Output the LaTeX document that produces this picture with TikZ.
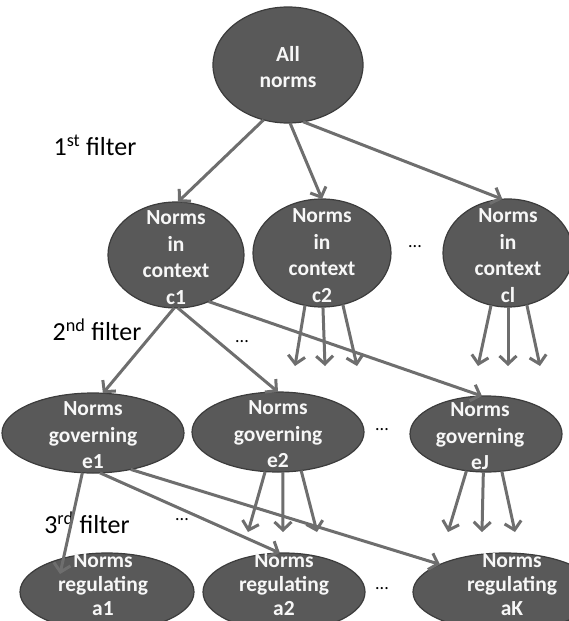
\documentclass[tikz,border=0pt]{standalone}
\usepackage{fontspec}
\setmainfont{Carlito}
\usetikzlibrary{shapes.geometric,arrows.meta}
\definecolor{nodefill}{HTML}{595959}
\definecolor{nodeedge}{HTML}{3C3C3C}
\definecolor{arrowgray}{HTML}{6E6E6E}
\newcommand{\nodetext}[2][0pt]{\makebox[0pt]{\hspace*{#1}\hspace*{#1}\smash{\raisebox{\dimexpr-0.25em-4pt\relax}{\begin{tabular}{@{}c@{}}#2\end{tabular}}}}}
\newcommand{\nodetextlow}[2][0pt]{\makebox[0pt]{\hspace*{#1}\hspace*{#1}\smash{\raisebox{\dimexpr-0.25em+5pt\relax}{\begin{tabular}{@{}c@{}}#2\end{tabular}}}}}
\tikzset{
  blob/.style={ellipse, draw=nodeedge, line width=1.2pt, fill=nodefill, text=white!94!gray,
    inner sep=0pt, outer sep=0pt, font=\fontsize{21.5}{26.5}\selectfont\bfseries},
  lowblob/.style={blob, font=\fontsize{21.5}{24}\selectfont\bfseries},
  fltlabel/.style={font=\fontsize{26}{30}\selectfont, text=black, inner sep=0pt},
  dotlabel/.style={font=\fontsize{18}{20}\selectfont, text=black, inner sep=0pt},
  conn/.style={draw=arrowgray, line width=3pt, -{Straight Barb[length=8pt,width=17pt]}},
}
\begin{document}
\begin{tikzpicture}[x=1pt,y=-1pt]
\useasboundingbox (0,0) rectangle (569,621);
% nodes
\node[blob, minimum width=150pt, minimum height=116pt] (A) at (288,65) {\nodetext{All\\norms}};
\node[blob, minimum width=136pt, minimum height=106pt] (c1) at (176,255) {\nodetext{Norms\\in\\context\\c1}};
\node[blob, minimum width=138pt, minimum height=108pt] (c2) at (322,253) {\nodetext{Norms\\in\\context\\c2}};
\node[blob, minimum width=130pt, minimum height=108pt] (cl) at (508,253) {\nodetext{Norms\\in\\context\\cl}};
\node[blob, minimum width=182pt, minimum height=80pt] (e1) at (93,433) {\nodetext{Norms\\governing\\e1}};
\node[blob, minimum width=172pt, minimum height=80pt] (e2) at (278,432) {\nodetext{Norms\\governing\\e2}};
\node[blob, minimum width=152pt, minimum height=76pt] (eJ) at (486,434) {\nodetext[-6pt]{Norms\\governing\\eJ}};
\node[lowblob, minimum width=174pt, minimum height=78pt] (a1) at (107,592) {\nodetextlow[-4pt]{Norms\\regulating\\a1}};
\node[lowblob, minimum width=162pt, minimum height=78pt] (a2) at (284,592) {\nodetextlow{Norms\\regulating\\a2}};
\node[lowblob, minimum width=184pt, minimum height=78pt] (aK) at (505,592) {\nodetextlow[7pt]{Norms\\regulating\\aK}};
% labels
\node[fltlabel] (f1) at (95,145) {1\textsuperscript{st} filter};
\node[fltlabel] (f2) at (97,330) {2\textsuperscript{nd} filter};
\node[fltlabel] (f3) at (87,523) {3\textsuperscript{rd} filter};
\node[dotlabel] (d1) at (415,247) {...};
\node[dotlabel] (d2) at (242,342) {...};
\node[dotlabel] (d3) at (382,430) {...};
\node[dotlabel] (d4) at (182,520) {...};
\node[dotlabel] (d5) at (382,589) {...};
% free ends
\coordinate (c2o1) at (295,366);
\coordinate (c2o2) at (325,366);
\coordinate (c2o3) at (357,366);
\coordinate (clo1) at (478,366);
\coordinate (clo2) at (508,366);
\coordinate (clo3) at (540,366);
\coordinate (e2o1) at (248,532);
\coordinate (e2o2) at (283,532);
\coordinate (e2o3) at (317,532);
\coordinate (eJo1) at (448,532);
\coordinate (eJo2) at (482,532);
\coordinate (eJo3) at (515,532);
\coordinate (a1in) at (60,574);
% connectors
\draw[conn] (A.246) -- (c1.88);
\draw[conn] (A.272) -- (c2.90);
\draw[conn] (A.285) -- (cl.96);
\draw[conn] (c1.268) -- (e1.76);
\draw[conn] (c1.272) -- (e2.90);
\draw[conn] (c1.305) -- (eJ.96);
\draw[conn] (c2.252) -- (c2o1);
\draw[conn] (c2.271) -- (c2o2);
\draw[conn] (c2.292) -- (c2o3);
\draw[conn] (cl.252) -- (clo1);
\draw[conn] (cl.270) -- (clo2);
\draw[conn] (cl.290) -- (clo3);
\draw[conn] (e1.255) -- (a1in);
\draw[conn] (e1.280) -- (a2.96);
\draw[conn] (e1.316) -- (aK.157);
\draw[conn] (e2.252) -- (e2o1);
\draw[conn] (e2.277) -- (e2o2);
\draw[conn] (e2.301) -- (e2o3);
\draw[conn] (eJ.242) -- (eJo1);
\draw[conn] (eJ.266) -- (eJo2);
\draw[conn] (eJ.293) -- (eJo3);
\end{tikzpicture}
\end{document}
